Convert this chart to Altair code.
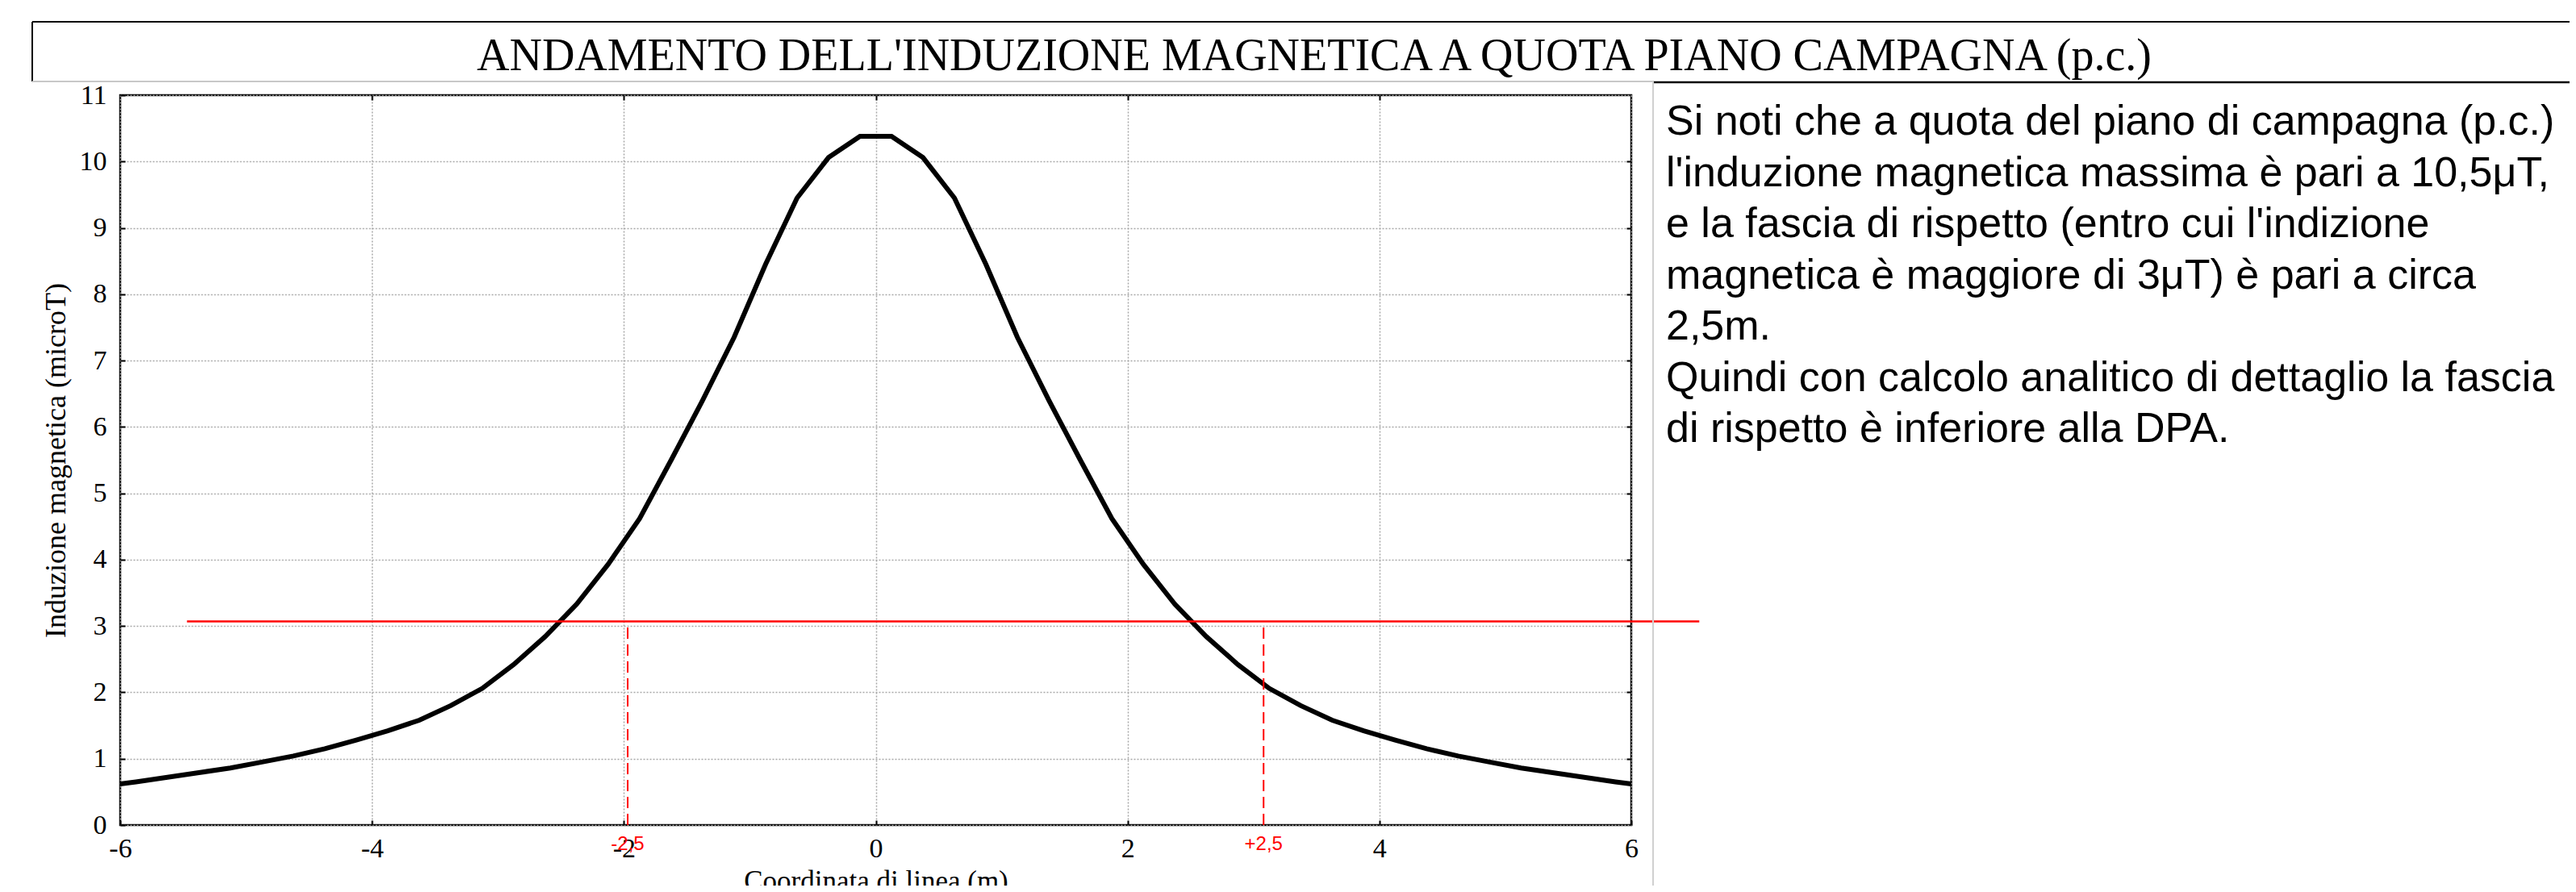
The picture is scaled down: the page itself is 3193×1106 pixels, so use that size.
import altair as alt
import pandas as pd

# ---------------- data ----------------
x_coord = [-6.0, -5.875, -5.625, -5.375, -5.125, -4.875, -4.625, -4.375, -4.125, -3.875,
           -3.625, -3.375, -3.125, -2.875, -2.625, -2.375, -2.125, -1.875, -1.625, -1.375,
           -1.125, -0.875, -0.625, -0.375, -0.125,
           0.125, 0.375, 0.625, 0.875, 1.125, 1.375, 1.625, 1.875, 2.125, 2.375,
           2.625, 2.875, 3.125, 3.375, 3.625, 3.875, 4.125, 4.375, 4.625, 4.875,
           5.125, 5.375, 5.625, 5.875, 6.0]
b_vals = [0.62, 0.65, 0.72, 0.79, 0.86, 0.95, 1.04, 1.15, 1.28, 1.42,
          1.58, 1.80, 2.06, 2.42, 2.84, 3.33, 3.93, 4.62, 5.50, 6.40,
          7.35, 8.45, 9.45, 10.06, 10.38,
          10.38, 10.06, 9.45, 8.45, 7.35, 6.40, 5.50, 4.62, 3.93, 3.33,
          2.84, 2.42, 2.06, 1.80, 1.58, 1.42, 1.28, 1.15, 1.04, 0.95,
          0.86, 0.79, 0.72, 0.65, 0.62]

x_ticks = [-6, -4, -2, 0, 2, 4, 6]
y_ticks = [0, 1, 2, 3, 4, 5, 6, 7, 8, 9, 10, 11]

threshold = 3.07
thr_x_start = -5.47
thr_x_end = 6.54
fascia_x = [-1.97, 3.08]
fascia_labels = ["-2,5", "+2,5"]

title_text = "ANDAMENTO DELL'INDUZIONE MAGNETICA A QUOTA PIANO CAMPAGNA (p.c.)"
note_lines = [
    "Si noti che a quota del piano di campagna (p.c.)",
    "l'induzione magnetica massima è pari a 10,5μT,",
    "e la fascia di rispetto (entro cui l'indizione",
    "magnetica è maggiore di 3μT) è pari a circa",
    "2,5m.",
    "Quindi con calcolo analitico di dettaglio la fascia",
    "di rispetto è inferiore alla DPA.",
]
x_title = "Coordinata di linea (m)"
y_title = "Induzione magnetica (microT)"

# ---------------- layout ----------------
W, H = 1873, 905
PAD_L, PAD_T = 141, 110
TOTAL_W, TOTAL_H = 3177, 1090
PAD_R = TOTAL_W - PAD_L - W
PAD_B = TOTAL_H - PAD_T - H

serif = "Liberation Serif"
sans = "Liberation Sans"

xscale = alt.Scale(domain=[-6, 6], nice=False, zero=False)
yscale = alt.Scale(domain=[0, 11], nice=False, zero=False)

common_axis = dict(offset=-6, tickSize=6, tickWidth=2, tickColor="black", domain=False,
                   labelFlush=False)

x_axis_main = alt.Axis(orient="bottom", values=x_ticks, title=x_title,
                       grid=True, gridColor="#a8a8a8", gridDash=[2, 2], gridWidth=1.5,
                       labelFont=serif, labelFontSize=34, labelColor="black", labelPadding=12,
                       labelExpr="'' + datum.value",
                       titleFont=serif, titleFontSize=35, titleFontWeight="normal",
                       titleColor="black", titlePadding=6, **common_axis)
y_axis_main = alt.Axis(orient="left", values=y_ticks, title=y_title,
                       grid=True, gridColor="#a8a8a8", gridDash=[2, 2], gridWidth=1.5,
                       labelFont=serif, labelFontSize=34, labelColor="black", labelPadding=17,
                       labelExpr="'' + datum.value",
                       titleFont=serif, titleFontSize=36, titleFontWeight="normal",
                       titleColor="black", titlePadding=10, **common_axis)
x_axis_top = alt.Axis(orient="top", values=x_ticks[1:-1], title=None, labels=False, grid=False,
                      **common_axis)
y_axis_right = alt.Axis(orient="right", values=y_ticks[1:-1], title=None, labels=False, grid=False,
                        **common_axis)

df = pd.DataFrame({"x": x_coord, "b": b_vals})

curve = alt.Chart(df).mark_line(color="black", strokeWidth=6).encode(
    x=alt.X("x:Q", scale=xscale, axis=x_axis_main),
    y=alt.Y("b:Q", scale=yscale, axis=y_axis_main),
)

thr_df = pd.DataFrame({"x1": [thr_x_start], "x2": [thr_x_end], "y": [threshold]})
hline = alt.Chart(thr_df).mark_rule(color="#ff0000", strokeWidth=2.5).encode(
    x=alt.X("x1:Q", scale=xscale, axis=x_axis_top),
    x2="x2:Q",
    y=alt.Y("y:Q", scale=yscale, axis=y_axis_right),
)

fascia_df = pd.DataFrame({"x": fascia_x, "y0": [0, 0], "y1": [threshold, threshold],
                          "label": fascia_labels})
vlines = alt.Chart(fascia_df).mark_rule(color="#ff0000", strokeWidth=2, strokeDash=[14, 7]).encode(
    x=alt.X("x:Q", scale=xscale, axis=None),
    y=alt.Y("y0:Q", scale=yscale, axis=None),
    y2="y1:Q",
)
vlabels = alt.Chart(fascia_df).mark_text(color="#ff0000", font=sans, fontSize=24, dy=31,
                                         baseline="alphabetic", align="center").encode(
    x=alt.X("x:Q", scale=xscale, axis=None),
    y=alt.Y("y0:Q", scale=yscale, axis=None),
    text="label:N",
)

one = pd.DataFrame({"k": [0]})


def rule(x1, x2, y1, y2, color, width):
    return alt.Chart(one).mark_rule(color=color, strokeWidth=width).encode(
        x=alt.value(x1), x2=alt.value(x2), y=alt.value(y1), y2=alt.value(y2))


right_edge = TOTAL_W - PAD_L
bottom_edge = TOTAL_H - PAD_T
deco = [
    rule(-109, right_edge, -91, -91, "black", 2),      # title box top
    rule(-109, -109, -91, -17, "black", 2),            # title box left
    rule(-109, 1900, -17, -17, "#c8c8c8", 2),          # title box bottom
    rule(1900, right_edge, -16, -16, "black", 2.5),    # note box top
    rule(1900, 1900, -17, bottom_edge, "#d0d0d0", 2),  # note box left
]

title = alt.Chart(pd.DataFrame({"t": [title_text]})).mark_text(
    font=serif, fontSize=56, align="center", baseline="alphabetic", color="black"
).encode(x=alt.value(1480), y=alt.value(-31), text="t:N")

note = alt.Chart(pd.DataFrame({"t": ["\n".join(note_lines)]})).mark_text(
    font=sans, fontSize=52, align="left", baseline="alphabetic", color="black",
    lineBreak="\n", lineHeight=63.5
).encode(x=alt.value(1916), y=alt.value(49), text="t:N")

chart = alt.layer(curve, hline, vlines, vlabels, *deco, title, note).resolve_axis(
    x="independent", y="independent"
).properties(
    width=W, height=H,
    autosize=alt.AutoSizeParams(type="none"),
    padding={"left": PAD_L, "top": PAD_T, "right": PAD_R, "bottom": PAD_B},
    background="white",
).configure_view(stroke="black", strokeWidth=2.5)

chart.save("out.html", embed_options={"renderer": "svg", "actions": False})
